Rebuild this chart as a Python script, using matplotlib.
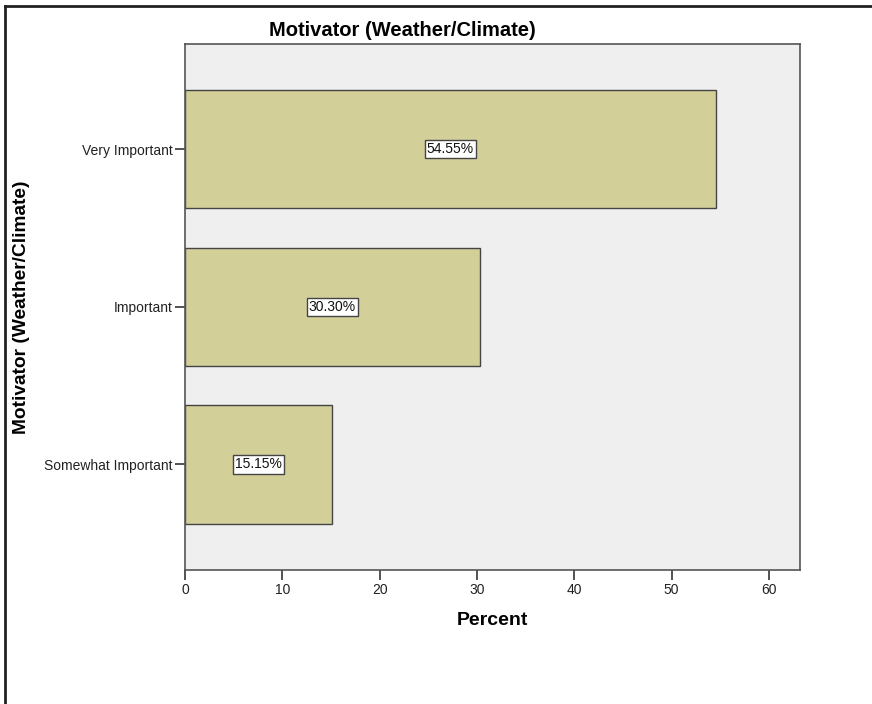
import matplotlib.pyplot as plt
from matplotlib.lines import Line2D

plt.rcParams['font.family'] = ['Liberation Sans', 'DejaVu Sans']

# categories from bottom to top, as drawn on the y axis
categories = ['Somewhat Important', 'Important', 'Very Important']
percents = [15.15, 30.30, 54.55]
x_ticks = [0, 10, 20, 30, 40, 50, 60]

bar_color = '#d3cf99'
panel_color = '#efefef'
edge_color = '#444444'

fig = plt.figure(figsize=(8.72, 7.04), dpi=100)
ax = fig.add_axes([185 / 872, 1 - 570 / 704, 615 / 872, 526 / 704])
ax.set_facecolor(panel_color)

ypos = list(range(len(categories)))
ax.barh(ypos, percents, height=0.75, color=bar_color,
        edgecolor=edge_color, linewidth=1.0, zorder=2)

for y, v in zip(ypos, percents):
    ax.text(v / 2, y, f'{v:.2f}%', ha='center', va='center', fontsize=10,
            color='#111111', zorder=3,
            bbox=dict(boxstyle='square,pad=0.15', facecolor='white',
                      edgecolor=edge_color, linewidth=1.0))

ax.set_xlim(0, 63.2)
ax.set_ylim(-0.669, 2.666)
ax.set_xticks(x_ticks)
ax.set_yticks(ypos)
ax.set_yticklabels(categories)
ax.tick_params(axis='both', direction='out', length=7, width=1.3,
               color=edge_color, labelsize=10, labelcolor='#222222', pad=2)

for side in ['left', 'bottom', 'right', 'top']:
    ax.spines[side].set_color('#555555')
    ax.spines[side].set_linewidth(1.2)

ax.set_xlabel('Percent', fontsize=14, fontweight='bold', labelpad=11)
fig.text(22 / 872, 1 - 307 / 704, 'Motivator (Weather/Climate)', rotation=90,
         ha='center', va='center', fontsize=13.8, fontweight='bold')
fig.text(402 / 872, 1 - 30 / 704, 'Motivator (Weather/Climate)',
         ha='center', va='center', fontsize=14.5, fontweight='bold')

# outer chart frame (left and top edges only in view)
fig.add_artist(Line2D([5 / 872, 5 / 872], [0, 1 - 6 / 704],
                      transform=fig.transFigure, color='#222222', linewidth=2))
fig.add_artist(Line2D([5 / 872, 1], [1 - 6 / 704, 1 - 6 / 704],
                      transform=fig.transFigure, color='#222222', linewidth=2))

fig.savefig('out.png', dpi=100)
